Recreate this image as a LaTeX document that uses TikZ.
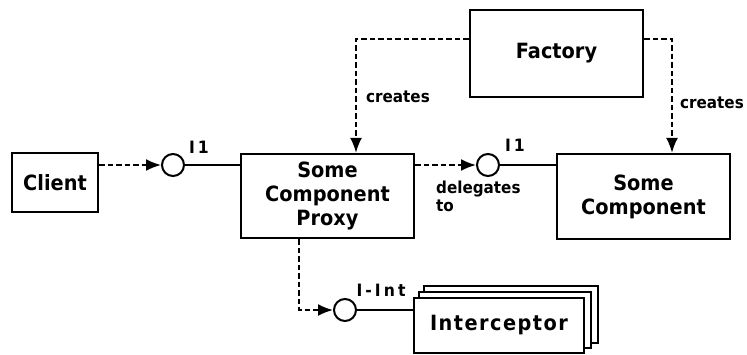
\documentclass[tikz,border=0pt]{standalone}
\usepackage{fontspec}
\setmainfont[FakeStretch=0.92]{DejaVu Sans}
\usetikzlibrary{arrows.meta,calc}
\tikzset{
  box/.style={draw, line width=2.3pt, fill=white, inner sep=0pt, align=center,
    font=\fontsize{21}{24}\selectfont\bfseries},
  iface/.style={draw, circle, line width=2pt, minimum size=22pt, inner sep=0pt, fill=white},
  dep/.style={dash pattern=on 5.5pt off 3pt, line width=1.9pt, -{Latex[length=15pt,width=12pt]}},
  wire/.style={line width=2pt},
  lbl/.style={font=\fontsize{16.5}{18}\selectfont\bfseries, inner sep=0pt},
  ilbl/.style={font=\fontsize{17}{18}\selectfont\bfseries\addfontfeature{LetterSpace=18}, inner sep=0pt}
}
\begin{document}
\begin{tikzpicture}[x=1pt,y=-1pt]
\useasboundingbox (0,0) rectangle (747,354);
\node[box, minimum width=86pt, minimum height=59pt] (client) at (55,182.5) {Client};
\node[box, minimum width=173pt, minimum height=84pt] (proxy) at (327.5,196) {Some\\Component\\Proxy};
\node[box, minimum width=173pt, minimum height=87pt] (fac) at (556.5,53.5) {Factory};
\node[box, minimum width=173pt, minimum height=85pt] (comp) at (643.5,196.5) {Some\\Component};
\node[iface] (c1) at (173,165) {};
\node[iface] (c2) at (488,165) {};
\node[iface] (c3) at (345,310) {};
\node[box, minimum width=174pt, minimum height=57pt] (int3) at (511,314.5) {};
\node[box, minimum width=172pt, minimum height=56pt] (int2) at (505,320) {};
\node[box, minimum width=170pt, minimum height=55pt, font=\fontsize{21}{24}\selectfont\bfseries\addfontfeature{LetterSpace=7}] (int) at (499,325.5) {Interceptor};
\node[ilbl] (l1) at (199,147) {I1};
\node[ilbl] (l2) at (515,145) {I1};
\node[ilbl] (l3) at (381,290) {I-Int};
\node[lbl] (cr1) at (398,97) {creates};
\node[lbl] (cr2) at (712,103) {creates};
\node[lbl, align=left, anchor=north west] (del) at (436,181) {delegates\\to};
% connectors
\draw[dep] ([yshift=17.5pt]client.east) -- (c1.west);
\draw[wire] (c1.east) -- (c1.east -| proxy.west);
\draw[dep] (proxy.east |- c2.west) -- (c2.west);
\draw[wire] (c2.east) -- (c2.east -| comp.west);
\draw[dep] ([yshift=14.5pt]fac.west) -| ([xshift=28.5pt]proxy.north);
\draw[dep] ([yshift=14.5pt]fac.east) -| ([xshift=28.5pt]comp.north);
\draw[dep] ([xshift=-28.5pt]proxy.south) |- (c3.west);
\draw[wire] (c3.east) -- (c3.east -| int.west);
\end{tikzpicture}
\end{document}
